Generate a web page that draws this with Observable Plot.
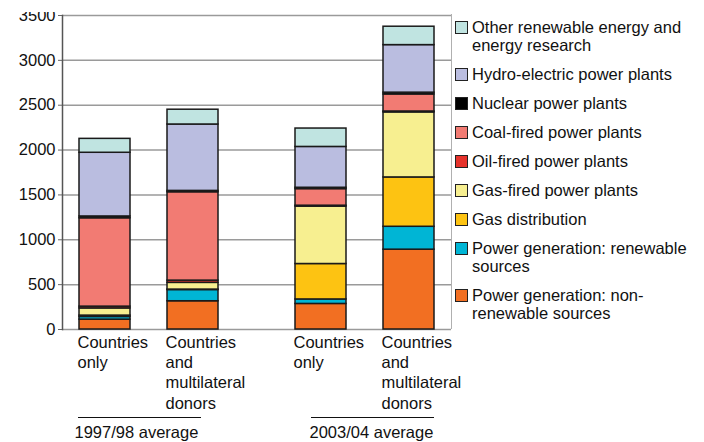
<!DOCTYPE html>
<html><head><meta charset="utf-8">
<script src="https://cdn.jsdelivr.net/npm/d3@7"></script>
<script src="https://cdn.jsdelivr.net/npm/@observablehq/plot@0.6"></script>
<style>
body{margin:0;background:#fff;font-family:"Liberation Sans",Arial,sans-serif;}
#wrap{position:relative;width:704px;height:442px;overflow:hidden;background:#fff;}
#legend{position:absolute;left:451px;top:14px;height:315px;border-left:1.5px solid #b0b0b0;padding-left:3px;box-sizing:border-box;}
#topcut{position:absolute;left:0;top:0;width:59px;height:12px;background:#fff;}
.item{display:flex;align-items:flex-start;margin-bottom:11px;font-size:16.5px;line-height:18px;color:#111;}
.sw{width:11px;height:11px;border:1px solid #222;margin-top:3px;margin-right:4px;flex:none;}
</style></head><body><div id="wrap"></div>
<script>
// ---- data ----
const periods = ["1997/98 average", "2003/04 average"];
const donors = ["Countries only", "Countries and multilateral donors"];
const donorLabels = ["Countries\nonly", "Countries\nand\nmultilateral\ndonors"];
// stacking order, bottom to top
const series = [
  "Power generation: non-renewable sources",
  "Power generation: renewable sources",
  "Gas distribution",
  "Gas-fired power plants",
  "Oil-fired power plants",
  "Coal-fired power plants",
  "Nuclear power plants",
  "Hydro-electric power plants",
  "Other renewable energy and energy research"
];
const legendLabels = [
  "Power generation: non-\nrenewable sources",
  "Power generation: renewable\nsources",
  "Gas distribution",
  "Gas-fired power plants",
  "Oil-fired power plants",
  "Coal-fired power plants",
  "Nuclear power plants",
  "Hydro-electric power plants",
  "Other renewable energy and\nenergy research"
];
const colors = ["#f26f22", "#00b5d5", "#fdc312", "#f7ef90", "#e5322b", "#f27b73", "#000000", "#babde0", "#c0e4e1"];
// values per bar: [97/98 countries, 97/98 countries+multilateral, 03/04 countries, 03/04 countries+multilateral]
const nonRenewable    = [110, 315, 285, 890];
const renewable       = [30, 125, 50, 255];
const gasDistribution = [15, 5, 395, 550];
const gasFired        = [80, 75, 640, 725];
const oilFired        = [20, 25, 10, 10];
const coalFired       = [985, 985, 185, 190];
const nuclear         = [20, 15, 15, 20];
const hydro           = [710, 740, 455, 530];
const otherRenewable  = [155, 165, 205, 205];
const yTicks = [0, 500, 1000, 1500, 2000, 2500, 3000, 3500];

// ---- table ----
const seriesValues = [nonRenewable, renewable, gasDistribution, gasFired, oilFired, coalFired, nuclear, hydro, otherRenewable];
const keys = [];
periods.forEach(p => donors.forEach(d => keys.push(p + "|" + d)));
const rows = [];
series.forEach((s, si) => keys.forEach((k, ki) => rows.push({key: k, period: periods[Math.floor(ki / 2)], series: s, value: seriesValues[si][ki]})));
const labelRows = keys.map((k, ki) => ({key: k, period: periods[Math.floor(ki / 2)], label: donorLabels[ki % 2]}));

// ---- layout ----
const W = 452, H = 442, ML = 62, MR = 1, MT = 15, MB = 113;
const padIn = 0.42, padOut = 0.416;
const band = d3.scaleBand(keys, [ML, W - MR]).paddingInner(padIn).paddingOuter(padOut).round(true);
const half = band.bandwidth() / 2;
const groupShift = [-20, 20];
const lineInsets = [[-1, 17], [16, 0]];
const titleDx = [-5, 14];

const marks = [
  Plot.gridY(yTicks, {stroke: "#9a9a9a", strokeOpacity: 1, strokeWidth: 1.5}),
  Plot.axisY(yTicks, {tickSize: 4, tickPadding: 3, tickFormat: d => String(d), fontSize: 16.5, stroke: "#666", label: null}),
  Plot.frame({anchor: "left", stroke: "#555", strokeWidth: 1.5})
];
periods.forEach((p, g) => {
  marks.push(Plot.barY(rows.filter(d => d.period === p), {
    x: "key", y: "value", fill: "series", order: series,
    stroke: "#1a1a1a", strokeWidth: 1.5, dx: groupShift[g]
  }));
  marks.push(Plot.text(labelRows.filter(d => d.period === p), {
    x: "key", text: "label", frameAnchor: "bottom", textAnchor: "start", lineAnchor: "top",
    dy: 4, dx: groupShift[g] - half - 2, fontSize: 16.5, lineHeight: 1.23, fill: "#111"
  }));
  const gk = keys.filter((k, i) => Math.floor(i / 2) === g);
  marks.push(Plot.ruleY([0], {
    x1: () => gk[0], x2: () => gk[1], dy: 88, dx: groupShift[g],
    insetLeft: lineInsets[g][0], insetRight: lineInsets[g][1], stroke: "#111", strokeWidth: 1.2
  }));
  marks.push(Plot.text([p], {
    x: () => gk[0], text: d => d, frameAnchor: "bottom", textAnchor: "start", lineAnchor: "middle",
    dy: 103, dx: groupShift[g] - half + titleDx[g], fontSize: 16.5, fill: "#111"
  }));
});

const chart = Plot.plot({
  width: W, height: H, marginLeft: ML, marginRight: MR, marginTop: MT, marginBottom: MB,
  style: {fontFamily: "'Liberation Sans', Arial, sans-serif", fontSize: "16.5px", background: "transparent", overflow: "visible", color: "#111"},
  x: {domain: keys, paddingInner: padIn, paddingOuter: padOut, axis: null},
  y: {domain: [0, 3500], axis: null},
  color: {domain: series, range: colors},
  marks
});
chart.style.position = "absolute";
chart.style.left = "0px";
chart.style.top = "0px";
const wrap = document.getElementById("wrap");
wrap.appendChild(chart);

// the reference image is cropped through the top tick label
const cut = document.createElement("div");
cut.id = "topcut";
wrap.appendChild(cut);

// legend (top entry = top of stack)
const legend = document.createElement("div");
legend.id = "legend";
const inner = document.createElement("div");
inner.style.paddingTop = "4px";
for (let i = series.length - 1; i >= 0; i--) {
  const it = document.createElement("div");
  it.className = "item";
  const sw = document.createElement("div");
  sw.className = "sw";
  sw.style.background = colors[i];
  const tx = document.createElement("div");
  tx.innerHTML = legendLabels[i].split("\n").join("<br>");
  it.appendChild(sw); it.appendChild(tx);
  inner.appendChild(it);
}
legend.appendChild(inner);
wrap.appendChild(legend);
</script></body></html>
